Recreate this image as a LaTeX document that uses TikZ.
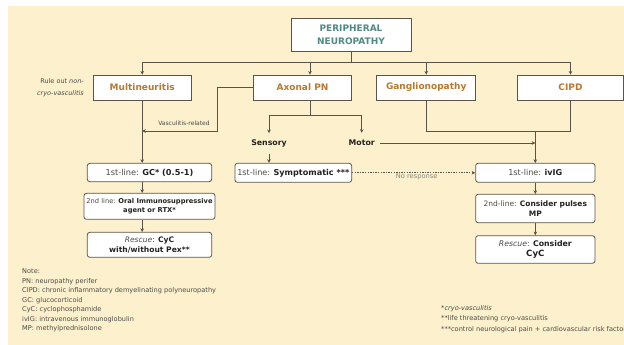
\documentclass[tikz,border=0pt]{standalone}
\usepackage{fontspec}
\setmainfont{DejaVu Sans}
\usetikzlibrary{arrows.meta}

\definecolor{cream}{HTML}{FDF0CD}
\definecolor{boxline}{HTML}{5A5548}
\definecolor{wireclr}{HTML}{57534A}
\definecolor{catorange}{HTML}{B8782E}
\definecolor{titleteal}{HTML}{4F8A86}
\definecolor{ink}{HTML}{222222}
\definecolor{softtext}{HTML}{4A4A44}
\definecolor{faint}{HTML}{8A877A}

\newcommand{\fsz}[2]{\fontsize{#1}{#2}\selectfont}
\newcommand{\strongtxt}[1]{{\color{ink}\bfseries #1}}

\tikzset{
  conn/.style={draw=wireclr, line width=0.7pt},
  arr/.style={-{Stealth[length=3.6pt,width=3.6pt]}},
  titlebox/.style={draw=boxline, fill=white, line width=0.8pt, inner sep=0pt,
    align=center, text=titleteal, font=\fsz{9}{13}\bfseries},
  catbox/.style={draw=boxline, fill=white, line width=0.8pt, inner sep=0pt,
    minimum height=25pt, text=catorange, font=\fsz{9}{11}\bfseries},
  stepbox/.style={draw=boxline, fill=white, line width=0.8pt, inner sep=0pt,
    rounded corners=2.5pt, align=center, text=softtext},
  branch/.style={inner sep=0pt, minimum height=20pt, text=ink, font=\fsz{7.8}{9}\bfseries},
  smalltext/.style={inner sep=0pt, text=softtext, align=left}
}

\begin{document}
\begin{tikzpicture}[x=1pt,y=-1pt]
  \useasboundingbox (0,0) rectangle (624,345);
  \fill[white] (0,0) rectangle (624,345);
  \fill[cream] (8,6) rectangle (624,345);
  \clip (0,0) rectangle (624,345);

  % top level
  \node[titlebox, minimum width=120pt, minimum height=33pt] (pn) at (351,34.5)
    {PERIPHERAL\\NEUROPATHY};

  % categories
  \node[catbox, minimum width=98pt]   (mult) at (142.2,87.5) {Multineuritis};
  \node[catbox, minimum width=98.4pt] (axon) at (302.5,87.5) {Axonal PN};
  \node[catbox, minimum width=99pt]   (gang) at (426.2,87.5) {Ganglionopathy};
  \node[catbox, minimum width=106pt]  (cipd) at (570.5,87.5) {CIPD};

  \node[smalltext, align=right, anchor=east, font=\fsz{6.5}{12}] (rule) at (84,88)
    {Rule out \textit{non-}\\\textit{cryo-vasculitis}};

  % multineuritis treatment line
  \node[stepbox, minimum width=124.4pt, minimum height=18.4pt, font=\fsz{8.2}{10}]
    (gc) at (149.5,172.5) {1st-line: \strongtxt{GC* (0.5-1)}};
  \node[stepbox, minimum width=131pt, minimum height=26pt, font=\fsz{6.7}{9.2}]
    (gctwo) at (149.5,206.3) {2nd line: \strongtxt{Oral Immunosuppressive}\\\strongtxt{agent or RTX*}};
  \node[stepbox, minimum width=124.4pt, minimum height=25pt, font=\fsz{7.6}{9.6}]
    (gcres) at (149.5,244.8) {\textit{Rescue}: \strongtxt{CyC}\\\strongtxt{with/without Pex**}};

  % axonal branches
  \node[branch] (sens)  at (269,143.3) {Sensory};
  \node[branch] (motor) at (361.7,143) {Motor};
  \node[stepbox, minimum width=116.7pt, minimum height=19pt, font=\fsz{8.1}{10}]
    (sympt) at (293.3,172.8) {1st-line: \strongtxt{Symptomatic ***}};

  % CIPD treatment line
  \node[stepbox, minimum width=119.3pt, minimum height=19pt, font=\fsz{8.1}{10}]
    (ivig) at (535.3,172.8) {1st-line: \strongtxt{ivIG}};
  \node[stepbox, minimum width=119.3pt, minimum height=28.4pt, font=\fsz{7.5}{10}]
    (mp) at (535.3,208.5) {2nd-line: \strongtxt{Consider pulses}\\\strongtxt{MP}};
  \node[stepbox, minimum width=119.3pt, minimum height=27.6pt, font=\fsz{7.8}{10}]
    (cycres) at (535.3,249.5) {\textit{Rescue}: \strongtxt{Consider}\\{\fsz{8.6}{10}\strongtxt{CyC}}};

  % top distribution bus
  \coordinate (bus) at (351,62);
  \draw[conn] (pn.south) -- (bus);
  \draw[conn,arr] (bus) -| (mult.north);
  \draw[conn,arr] (bus) -| ([xshift=7.5pt]axon.north);
  \draw[conn,arr] (bus) -| (gang.north);
  \draw[conn,arr] (bus) -| (cipd.north);

  % vasculitis-related branch from axonal PN
  \coordinate (vturn) at (217,131);
  \draw[conn,arr] (axon.west) -| (vturn) -- (mult.south |- vturn);
  \node[inner sep=0pt, text=softtext, font=\fsz{6}{7}] (vlab) at (184,123) {Vasculitis-related};

  % multineuritis chain
  \draw[conn,arr] (mult.south) -- (mult.south |- gc.north);
  \draw[conn,arr] (gc.south -| mult.south) -- (gctwo.north -| mult.south);
  \draw[conn,arr] (gctwo.south -| mult.south) -- (gcres.north -| mult.south);

  % axonal PN split
  \coordinate (asplit) at (310,115);
  \draw[conn] ([xshift=7.5pt]axon.south) -- (asplit);
  \draw[conn,arr] (asplit) -| (sens.north);
  \draw[conn,arr] (asplit) -| (motor.north);
  \draw[conn,arr] (sens.south) -- (sens.south |- sympt.north);

  % ganglionopathy and CIPD merge
  \coordinate (gjoin) at (535.3,131.7);
  \draw[conn] (gang.south) |- (cipd.south |- gjoin) -- (cipd.south);
  \draw[conn,arr] (gjoin) -- (ivig.north);
  \draw[conn,arr,shorten <=5pt] (motor.east) -- (motor.east -| ivig.north);

  % no response
  \draw[conn,arr,dash pattern=on 1.4pt off 1.2pt] (sympt.east) -- (ivig.west);
  \node[inner sep=0pt, text=faint, font=\fsz{6.7}{8}] (nores) at (416.7,177) {No response};

  % CIPD chain
  \draw[conn,arr] (ivig.south) -- (mp.north);
  \draw[conn,arr] (mp.south) -- (cycres.north);

  % legends
  \node[smalltext, anchor=north west, font=\fsz{6.6}{9.5}] (notes) at (22,268.8)
    {Note:\\
     PN: neuropathy perifer\\
     CIPD: chronic inflammatory demyelinating polyneuropathy\\
     GC: glucocorticoid\\
     CyC: cyclophosphamide\\
     ivIG: intravenous immunoglobulin\\
     MP: methylprednisolone};
  \node[smalltext, anchor=north west, font=\fsz{6.6}{10.3}] (foot) at (441,305.4)
    {*\textit{cryo-vasculitis}\\
     **life threatening cryo-vasculitis\\
     ***control neurological pain + cardiovascular risk factors};
\end{tikzpicture}
\end{document}
